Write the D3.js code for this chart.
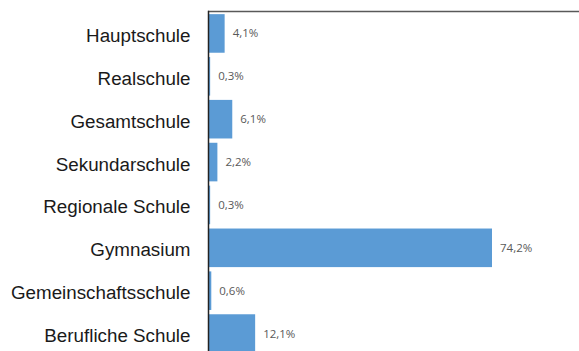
<!DOCTYPE html>
<html>
<head>
<meta charset="utf-8">
<script src="https://cdn.jsdelivr.net/npm/d3@7"></script>
<style>
  body { margin: 0; background: #fff; }
  svg { display: block; }
</style>
</head>
<body>
<svg id="canvas"></svg>
<script>
let schools = ['Hauptschule', 'Realschule', 'Gesamtschule', 'Sekundarschule',
               'Regionale Schule', 'Gymnasium', 'Gemeinschaftsschule', 'Berufliche Schule']
let shares = [4.1, 0.3, 6.1, 2.2, 0.3, 74.2, 0.6, 12.1]
let shareLabels = ['4,1%', '0,3%', '6,1%', '2,2%', '0,3%', '74,2%', '0,6%', '12,1%']

let width = 579
let height = 351
let axisX = 209
let topY = 12

let canvas = d3.select('#canvas')
    .attr('width', width)
    .attr('height', height)

let data = schools.map((s, i) => ({ name: s, value: shares[i], label: shareLabels[i] }))

let xScale = d3.scaleLinear()
    .domain([0, 74.2])
    .range([axisX, 492])

let yScale = d3.scaleBand()
    .domain(schools)
    .range([topY, topY + 343])
    .paddingInner(0.1)
    .paddingOuter(0.05)

// bars
canvas.selectAll('rect.bar')
    .data(data)
    .enter()
    .append('rect')
    .attr('class', 'bar')
    .attr('x', xScale(0))
    .attr('y', (d) => yScale(d.name))
    .attr('width', (d) => xScale(d.value) - xScale(0))
    .attr('height', yScale.bandwidth())
    .attr('fill', '#5b9bd5')

// value labels
canvas.selectAll('text.value')
    .data(data)
    .enter()
    .append('text')
    .attr('class', 'value')
    .attr('x', (d) => xScale(d.value) + 8)
    .attr('y', (d) => yScale(d.name) + yScale.bandwidth() / 2)
    .attr('dy', '0.35em')
    .style('font-family', '"Open Sans", sans-serif')
    .style('font-size', '11.5px')
    .attr('fill', '#595959')
    .text((d) => d.label)

// category axis
let yAxis = d3.axisLeft(yScale).tickSize(0).tickPadding(18)
let gy = canvas.append('g')
    .attr('transform', `translate(${axisX - 0.5}, 2.5)`)
    .call(yAxis)
gy.select('.domain').remove()
gy.selectAll('text')
    .style('font-family', '"Liberation Sans", Arial, sans-serif')
    .style('font-size', '18.8px')
    .attr('fill', '#1a1a1a')

// frame lines
canvas.append('line')
    .attr('x1', axisX - 1).attr('x2', width)
    .attr('y1', topY - 0.5).attr('y2', topY - 0.5)
    .attr('stroke', '#595959')
    .attr('stroke-width', 1.5)

canvas.append('line')
    .attr('x1', axisX - 0.5).attr('x2', axisX - 0.5)
    .attr('y1', topY - 1.25).attr('y2', height)
    .attr('stroke', '#222')
    .attr('stroke-width', 1.5)
</script>
</body>
</html>
